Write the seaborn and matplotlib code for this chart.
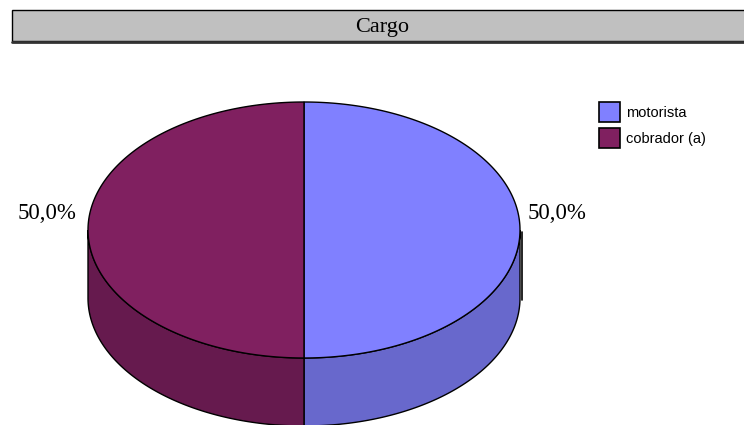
import numpy as np
import matplotlib
matplotlib.use("Agg")
import matplotlib.pyplot as plt
from matplotlib.patches import Polygon, Rectangle
import seaborn as sns

# ---- data ----
categories = ["motorista", "cobrador (a)"]
values = [50.0, 50.0]
value_labels = ["50,0%", "50,0%"]
title = "Cargo"

top_colors = ["#8080FF", "#802060"]
side_colors = ["#6868CC", "#661A4E"]

sns.set_theme(style="white")
plt.rcParams['font.family'] = ['Liberation Serif', 'DejaVu Serif']

W, H = 744, 425
fig = plt.figure(figsize=(W / 100, H / 100), dpi=100)
ax = fig.add_axes([0, 0, 1, 1])
ax.set_xlim(0, W)
ax.set_ylim(H, 0)
ax.axis("off")

# ---- title box ----
ax.add_patch(Rectangle((12, 10), 760, 31, facecolor="#C0C0C0", edgecolor="black",
                       lw=1.0, zorder=1, clip_on=False))
ax.plot([12, 760], [41.5, 41.5], color="#333333", lw=2.0, zorder=2)
ax.text(382, 27, title, ha="center", va="center", fontsize=16, color="black",
        family=['Liberation Serif'])

# ---- 3D pie ----
cx, cy, rx, ry, depth = 304, 230, 216, 128, 68


def pt(t, dy=0.0):
    return cx + rx * np.cos(t), cy - ry * np.sin(t) + dy


total = float(sum(values))
start = np.pi / 2
angles = []
for v in values:
    sweep = 2 * np.pi * v / total
    angles.append((start - sweep, start))  # clockwise
    start -= sweep

# sides (front half: sin t < 0)
for (a0, a1), sc in zip(angles, side_colors):
    # normalise into range to intersect with front half [-pi, 0] (mod 2pi)
    for shift in (-2 * np.pi, 0, 2 * np.pi):
        lo = max(a0 + shift, -np.pi)
        hi = min(a1 + shift, 0.0)
        if hi - lo > 1e-6:
            t = np.linspace(lo, hi, 120)
            xs, ys = pt(t)
            xb, yb = pt(t[::-1], depth)
            poly = np.column_stack([np.concatenate([xs, xb]), np.concatenate([ys, yb])])
            ax.add_patch(Polygon(poly, closed=True, facecolor=sc, edgecolor="black",
                                 lw=1.0, zorder=3))

# tops
for (a0, a1), tc in zip(angles, top_colors):
    t = np.linspace(a0, a1, 240)
    xs, ys = pt(t)
    poly = np.column_stack([np.concatenate([[cx], xs]), np.concatenate([[cy], ys])])
    ax.add_patch(Polygon(poly, closed=True, facecolor=tc, edgecolor="black",
                         lw=1.0, zorder=4))

# right edge line artifact
ax.plot([cx + rx + 2, cx + rx + 2], [cy + 2, cy + depth + 2], color="black", lw=1.2, zorder=5)

# value labels
for (a0, a1), lab in zip(angles, value_labels):
    mid = (a0 + a1) / 2
    c = np.cos(mid)
    if c >= 0:
        ax.text(cx + rx + 8, cy - 17, lab, ha="left", va="center", fontsize=16.5,
                family=['Liberation Serif'], color="black")
    else:
        ax.text(cx - rx - 12, cy - 17, lab, ha="right", va="center", fontsize=16.5,
                family=['Liberation Serif'], color="black")

# legend
leg_y = [102, 128]
for cat, tc, y in zip(categories, top_colors, leg_y):
    ax.add_patch(Rectangle((599, y), 21, 20, facecolor=tc, edgecolor="black", lw=1.2, zorder=5))
    ax.text(626, y + 10.5, cat, ha="left", va="center", fontsize=10.5,
            family=['Liberation Sans'], color="black")

fig.savefig("out.png", dpi=100)
